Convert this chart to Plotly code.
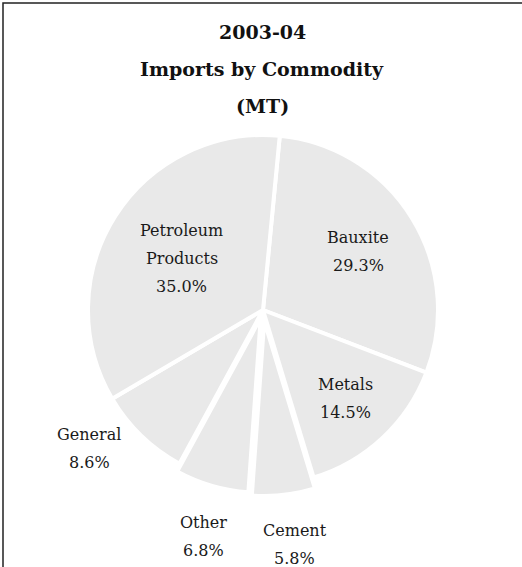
import math
import plotly.graph_objects as go

# Imports by commodity, 2003-04 (share of tonnage, %)
commodities = ["Bauxite", "Metals", "Cement", "Other", "General", "Petroleum<br>Products"]
shares = [29.3, 14.5, 5.8, 6.8, 8.6, 35.0]

title_lines = ["2003-04", "Imports by Commodity", "(MT)"]

# slice styling: small explode on the two thin bottom wedges
pulls = [0, 0, 0.063, 0.046, 0, 0]
# label placement: distance from the centre (in radii) and angular nudge (deg)
label_radius = [0.64, 0.69, 1.35, 1.34, 1.27, 0.55]
label_nudge = [0, 0, -1.4, -1.7, 7.5, 0]

W, H = 522, 567
FONT = "DejaVu Serif"
CX, CY, R = 263, 310, 175          # pie centre / radius in pixels
ROTATION = 5.5
LINE_GAP = 28                      # label line spacing, px

half = R * (1 + max(pulls))
domain = dict(
    x=[(CX - half) / W, (CX + half) / W],
    y=[(H - CY - half) / H, (H - CY + half) / H],
)

fig = go.Figure(
    go.Pie(
        labels=[c.replace("<br>", " ") for c in commodities],
        values=shares,
        sort=False,
        direction="clockwise",
        rotation=ROTATION,
        pull=pulls,
        marker=dict(colors=["#e9e9e9"] * len(shares), line=dict(color="white", width=4)),
        textinfo="none",
        hoverinfo="label+value",
        showlegend=False,
        domain=domain,
    )
)

# slice labels: name line(s) above the percentage, centred on the label point
annotations = []
start = ROTATION
for name, v, rf, nudge in zip(commodities, shares, label_radius, label_nudge):
    sweep = v / sum(shares) * 360
    mid = math.radians(start + sweep / 2 + nudge)
    start += sweep
    lx = CX + rf * R * math.sin(mid)
    ly = CY - rf * R * math.cos(mid)
    lines = name.split("<br>") + [f"{v:.1f}%"]
    for i, line in enumerate(lines):
        off = (i - (len(lines) - 1) / 2) * LINE_GAP
        annotations.append(
            dict(
                text=line,
                x=lx / W,
                y=1 - (ly + off) / H,
                xref="paper",
                yref="paper",
                xanchor="center",
                yanchor="middle",
                showarrow=False,
                font=dict(family=FONT, size=16, color="#1a1a1a"),
            )
        )

# three-line heading
for i, line in enumerate(title_lines):
    annotations.append(
        dict(
            text=f"<b>{line}</b>",
            x=262 / W,
            y=1 - (32 + i * 37) / H,
            xref="paper",
            yref="paper",
            xanchor="center",
            yanchor="middle",
            showarrow=False,
            font=dict(family=FONT, size=19, color="#111111"),
        )
    )

fig.update_layout(
    width=W,
    height=H,
    margin=dict(l=0, r=0, t=0, b=0),
    paper_bgcolor="white",
    annotations=annotations,
    shapes=[
        dict(
            type="rect",
            xref="paper",
            yref="paper",
            x0=3 / W,
            x1=1.2,
            y0=-0.2,
            y1=1 - 3 / H,
            line=dict(color="#222222", width=1.5),
            fillcolor="rgba(0,0,0,0)",
        )
    ],
)

fig.write_html("out.html")
